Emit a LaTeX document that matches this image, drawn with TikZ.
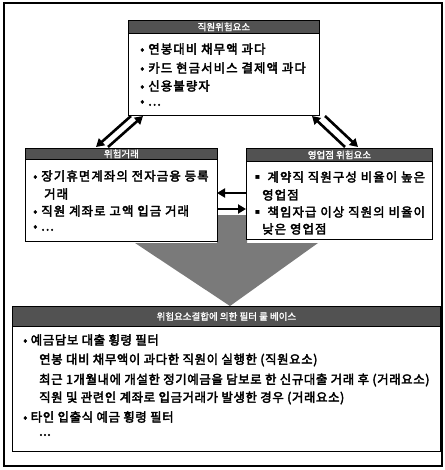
\documentclass[tikz,border=0pt]{standalone}
\usepackage{fontspec}
\newfontfamily\kra{Noto Sans CJK KR}[FakeBold=3, LetterSpace=9]
\newfontfamily\krc{Noto Sans CJK KR}[FakeBold=3, LetterSpace=5]
\newfontfamily\krh{Noto Sans CJK KR}[FakeBold=1.5]
\usetikzlibrary{arrows.meta}
\begin{document}
\begin{tikzpicture}[x=1pt,y=-1pt,
  frame/.style={draw=black, line width=2.6pt},
  hdr/.style={fill=black!68, draw=black, line width=0.8pt, anchor=north west, inner sep=0, text=white, font=\krh\fontsize{9.5}{9.5}\selectfont},
  bodybox/.style={draw=black, line width=1.3pt, fill=white, anchor=north west, inner sep=0},
  txt/.style={anchor=west, inner sep=0, font=\kra\fontsize{12.4}{12.4}\selectfont},
  btxt/.style={anchor=west, inner sep=0, font=\krc\fontsize{12.4}{12.4}\selectfont},
  conn/.style={line width=2.6pt, -{Triangle[length=8pt,width=9pt]}},
  bigarrow/.style={fill=black!52}]
\useasboundingbox (0,0) rectangle (444,470);
\draw[frame] (4,3) rectangle (442,466);
% big arrow
\fill[bigarrow] (217,215) -- (247,215) -- (247,243) -- (318,243) -- (230,306) -- (135,243) -- (217,243) -- cycle;
% top box
\node[bodybox, minimum width=191pt, minimum height=82pt] (topb) at (128,33) {};
\node[hdr, minimum width=191pt, minimum height=13pt] (toph) at (128,20) {직원위험요소};
\node[txt] (t1) at (140,49) {• 연봉대비 채무액 과다};
\node[txt] (t2) at (140,68) {• 카드 현금서비스 결제액 과다};
\node[txt] (t3) at (140,86) {• 신용불량자};
\node[txt] (t4) at (140,103) {• ...};
% left box
\node[bodybox, minimum width=192pt, minimum height=82pt] (leftb) at (25,159) {};
\node[hdr, minimum width=192pt, minimum height=11pt] (lefth) at (25,148) {위험거래};
\node[txt] (l1) at (33,176) {• 장기휴면계좌의 전자금융 등록};
\node[txt] (l2) at (44,194) {거래};
\node[txt] (l3) at (33,211) {• 직원 계좌로 고액 입금 거래};
\node[txt] (l4) at (33,228) {• ...};
% right box
\node[bodybox, minimum width=186pt, minimum height=78pt] (rightb) at (246,161) {};
\node[hdr, minimum width=186pt, minimum height=13pt] (righth) at (246,148) {영업점 위험요소};
\node[txt] (r1) at (251,177) {▪ 계약직 직원구성 비율이 높은};
\node[txt] (r2) at (262,195) {영업점};
\node[txt] (r3) at (251,212) {▪ 책임자급 이상 직원의 비율이};
\node[txt] (r4) at (262,229) {낮은 영업점};
% bottom box
\node[bodybox, minimum width=428pt, minimum height=125pt] (botb) at (12,326) {};
\node[hdr, minimum width=428pt, minimum height=20pt] (both) at (12,306) {위험요소결합에 의한 필터 룰 베이스};
\node[btxt] (b1) at (23,340) {• 예금담보 대출 횡령 필터};
\node[btxt] (b2) at (39,360) {연봉 대비 채무액이 과다한 직원이 실행한 (직원요소)};
\node[btxt] (b3) at (39,380) {최근 1개월내에 개설한 정기예금을 담보로 한 신규대출 거래 후 (거래요소)};
\node[btxt] (b4) at (39,398) {직원 및 관련인 계좌로 입금거래가 발생한 경우 (거래요소)};
\node[btxt] (b5) at (23,417) {• 타인 입출식 예금 횡령 필터};
\node[btxt] (b6) at (39,435) {...};
% connector end points
\coordinate (tla) at (131,116);
\coordinate (tlb) at (96,147);
\coordinate (tlc) at (108,147);
\coordinate (tld) at (143,116);
\coordinate (tra) at (345,147);
\coordinate (trb) at (312,116);
\coordinate (trc) at (325,116);
\coordinate (trd) at (358,147);
\coordinate (ha) at (246,193);
\coordinate (hb) at (217,193);
\coordinate (hc) at (217,209);
\coordinate (hd) at (246,209);
\draw[conn] (tla) -- (tlb);
\draw[conn] (tlc) -- (tld);
\draw[conn] (tra) -- (trb);
\draw[conn] (trc) -- (trd);
\draw[conn] (ha) -- (hb);
\draw[conn] (hc) -- (hd);
\end{tikzpicture}
\end{document}
